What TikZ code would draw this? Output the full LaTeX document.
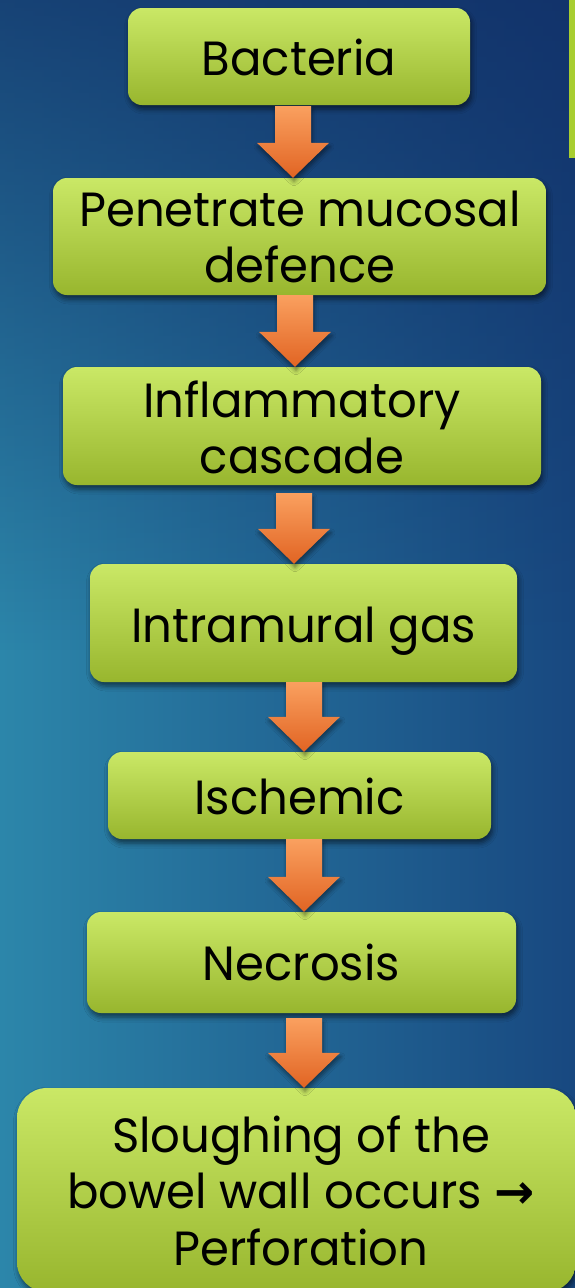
\documentclass[tikz,border=0pt]{standalone}
\usepackage{fontspec}
\setmainfont{Poppins}[FakeStretch=0.97]
\newfontfamily\arrowfont{DejaVu Sans}
\usetikzlibrary{calc,shadows.blur,fadings}
\definecolor{bgL}{RGB}{44,134,170}
\definecolor{bgR}{RGB}{24,72,128}
\definecolor{bgT}{RGB}{16,44,100}
\definecolor{boxTop}{RGB}{202,232,102}
\definecolor{boxBot}{RGB}{152,182,46}
\definecolor{arrTop}{RGB}{250,160,95}
\definecolor{arrBot}{RGB}{225,100,35}
\definecolor{edgeGreen}{RGB}{168,206,48}
\tikzfading[name=topfade, top color=transparent!0, bottom color=transparent!100]
\tikzset{
  stepbox/.style={rectangle, rounded corners=14pt, top color=boxTop, bottom color=boxBot,
    inner sep=0pt, draw=none,
    blur shadow={shadow xshift=1.5pt, shadow yshift=-4pt, shadow blur radius=5pt, shadow opacity=55}},
  steptext/.style={anchor=base, inner sep=0pt, font=\fontsize{48}{56}\selectfont, text=black},
  blockarrow/.style={top color=arrTop, bottom color=arrBot, draw=none,
    blur shadow={shadow xshift=1pt, shadow yshift=-4pt, shadow blur radius=4pt, shadow opacity=45}}
}
% #1 from node, #2 to node, #3 x-coordinate name, #4 extra gap below source box
\newcommand\flowarrow[4]{%
  \path[blockarrow]
    ($(#1.south -| #3)+(-18,#4)$) -- ($(#1.south -| #3)+(18,#4)$) --
    ($(#2.north -| #3)+(18,-35)$) -- ($(#2.north -| #3)+(36,-35)$) --
    (#2.north -| #3) --
    ($(#2.north -| #3)+(-36,-35)$) -- ($(#2.north -| #3)+(-18,-35)$) -- cycle;}
\begin{document}
\begin{tikzpicture}[x=1pt,y=-1pt]
  \useasboundingbox (0,0) rectangle (575,1288);
  \clip (0,0) rectangle (575,1288);
  % background
  \shade[left color=bgL, right color=bgR] (0,0) rectangle (575,1288);
  \fill[bgT, path fading=topfade, fill opacity=0.75] (0,0) rectangle (575,650);
  \fill[edgeGreen] (568.5,-5) rectangle (580,158);
  % boxes
  \node[stepbox, minimum width=342pt, minimum height=97pt]  (b1) at (299,56.5) {};
  \node[stepbox, minimum width=493pt, minimum height=117pt] (b2) at (299.5,236.5) {};
  \node[stepbox, minimum width=478pt, minimum height=118pt] (b3) at (302,426) {};
  \node[stepbox, minimum width=427pt, minimum height=118pt] (b4) at (303.5,623) {};
  \node[stepbox, minimum width=383pt, minimum height=87pt]  (b5) at (299.5,795.5) {};
  \node[stepbox, minimum width=429pt, minimum height=101pt] (b6) at (301.5,962.5) {};
  \node[stepbox, rounded corners=30pt, minimum width=559pt, minimum height=204pt] (b7) at (296.5,1190) {};
  % texts
  \node[steptext] (t1)  at (299,75)    {Bacteria};
  \node[steptext] (t2a) at (300,226)   {Penetrate mucosal};
  \node[steptext] (t2b) at (300,282)   {defence};
  \node[steptext] (t3a) at (302,417)   {Inflammatory};
  \node[steptext] (t3b) at (302,473)   {cascade};
  \node[steptext] (t4)  at (303.5,642) {Intramural gas};
  \node[steptext] (t5)  at (299.5,814) {Ischemic};
  \node[steptext] (t6)  at (301.5,980) {Necrosis};
  \node[steptext] (t7a) at (301,1152)  {Sloughing of the};
  \node[steptext] (t7b) at (301,1208)  {bowel wall occurs {\arrowfont\bfseries →}};
  \node[steptext] (t7c) at (301,1265)  {Perforation};
  % arrow axes
  \coordinate (xa) at (293,0);
  \coordinate (xb) at (295,0);
  \coordinate (xc) at (294,0);
  \coordinate (xd) at (304,0);
  % arrows
  \flowarrow{b1}{b2}{xa}{1}
  \flowarrow{b2}{b3}{xb}{0}
  \flowarrow{b3}{b4}{xc}{8}
  \flowarrow{b4}{b5}{xd}{0}
  \flowarrow{b5}{b6}{xd}{0}
  \flowarrow{b6}{b7}{xd}{5}
\end{tikzpicture}
\end{document}
